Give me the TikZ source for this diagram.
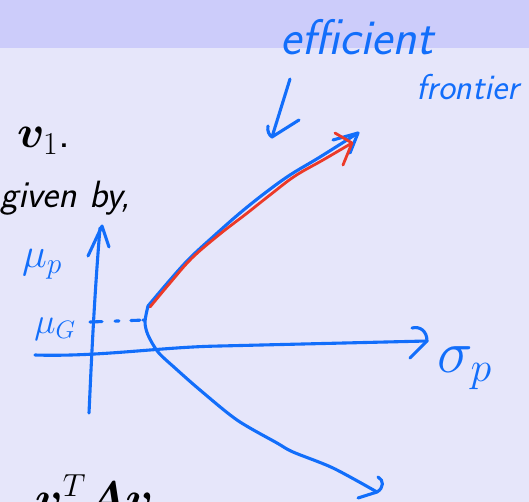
\RequirePackage{fix-cm}
\documentclass[tikz,border=0pt]{standalone}
\usepackage{amsmath,bm}
\definecolor{ink}{RGB}{18,110,250}
\definecolor{redink}{RGB}{236,58,40}
\definecolor{hdr}{RGB}{204,204,250}
\definecolor{bodybg}{RGB}{230,230,250}
\begin{document}
\begin{tikzpicture}[x=1pt,y=-1pt,
  pen/.style={ink,line width=3.1pt,line cap=round,line join=round},
  redpen/.style={redink,line width=2.8pt,line cap=round,line join=round},
  hand/.style={ink,inner sep=0pt},
  slide/.style={black,inner sep=0pt,font=\fontsize{38}{42}\selectfont\sffamily}]
\fill[bodybg] (0,0) rectangle (529,502);
\fill[hdr] (0,0) rectangle (529,48);
\useasboundingbox (0,0) rectangle (529,502);

% slide text
\node[slide,anchor=base west,scale=1.2] (t1) at (17,148) {$\bm{v}_1$.};
\node[slide,anchor=base west] (t2) at (0,208) {\itshape given by,};
\node[slide,anchor=base west,scale=1.2] (t3) at (35,513) {$\bm{v}^T\bm{A}\bm{v}$};

% handwritten labels
\node[hand,anchor=base west,font=\fontsize{50}{50}\selectfont\sffamily\itshape] (eff) at (280,55) {efficient};
\node[hand,anchor=base west,font=\fontsize{36}{36}\selectfont\sffamily\itshape] (fro) at (416,100) {frontier};
\node[hand,font=\fontsize{42}{42}\selectfont] (mup) at (42,264) {$\mu_p$};
\node[hand,font=\fontsize{36}{36}\selectfont] (mug) at (55,329) {$\mu_G$};
\node[hand,anchor=base west,font=\fontsize{60}{60}\selectfont] (sig) at (437,372) {$\sigma_p$};

% key points
\coordinate (ybot) at (89,413);
\coordinate (ytop) at (100,228);
\coordinate (xl) at (35,355);
\coordinate (xr) at (427,341);
\coordinate (V) at (148,306);
\coordinate (ftip) at (358,133);
\coordinate (rtip) at (352,143);
\coordinate (ltip) at (377,492);
\coordinate (atop) at (290,79);
\coordinate (atip) at (272,137);

% axes
\draw[pen] (ybot) .. controls (91,370) and (94,300) .. (ytop);
\draw[pen] (88,256) -- (102,226) -- (109,247);
\draw[pen] (xl) .. controls (100,357) and (160,347) .. (220,346) -- (xr);
\draw[pen] (412,328) .. controls (420,326) and (427,331) .. (xr) -- (410,358);

% mu_G dashed level
\draw[pen,dash pattern=on 12pt off 13pt on 4pt off 12pt on 9pt off 3pt on 3pt] (90,322) -- (145,320);

% frontier (blue)
\draw[pen] plot[smooth,tension=0.6] coordinates {(V) (170,280) (190,258) (215,235) (240,213) (265,193) (290,175) (320,157) (ftip)};
\draw[pen] (333,140) -- (ftip) -- (350,153);
% efficient part (red)
\draw[redpen] plot[smooth,tension=0.6] coordinates {(150,307) (170,283) (192,258) (220,234) (246,214) (270,195) (295,176) (323,160) (rtip)};
\draw[redpen] (335,133) -- (rtip) -- (343,165);
% lower branch
\draw[pen] plot[smooth] coordinates {(V) (145,322) (148,335) (158,352) (175,368) (200,390) (237,420) (277,443) (293,452) (333,468) (ltip)};
\draw[pen] (378,477) .. controls (384,480) and (384,488) .. (ltip) -- (358,498);

% annotation arrow
\draw[pen] (atop) -- (atip) -- (299,120);
\draw[pen] (268,126) .. controls (267,131) and (269,135) .. (atip);
\end{tikzpicture}
\end{document}
